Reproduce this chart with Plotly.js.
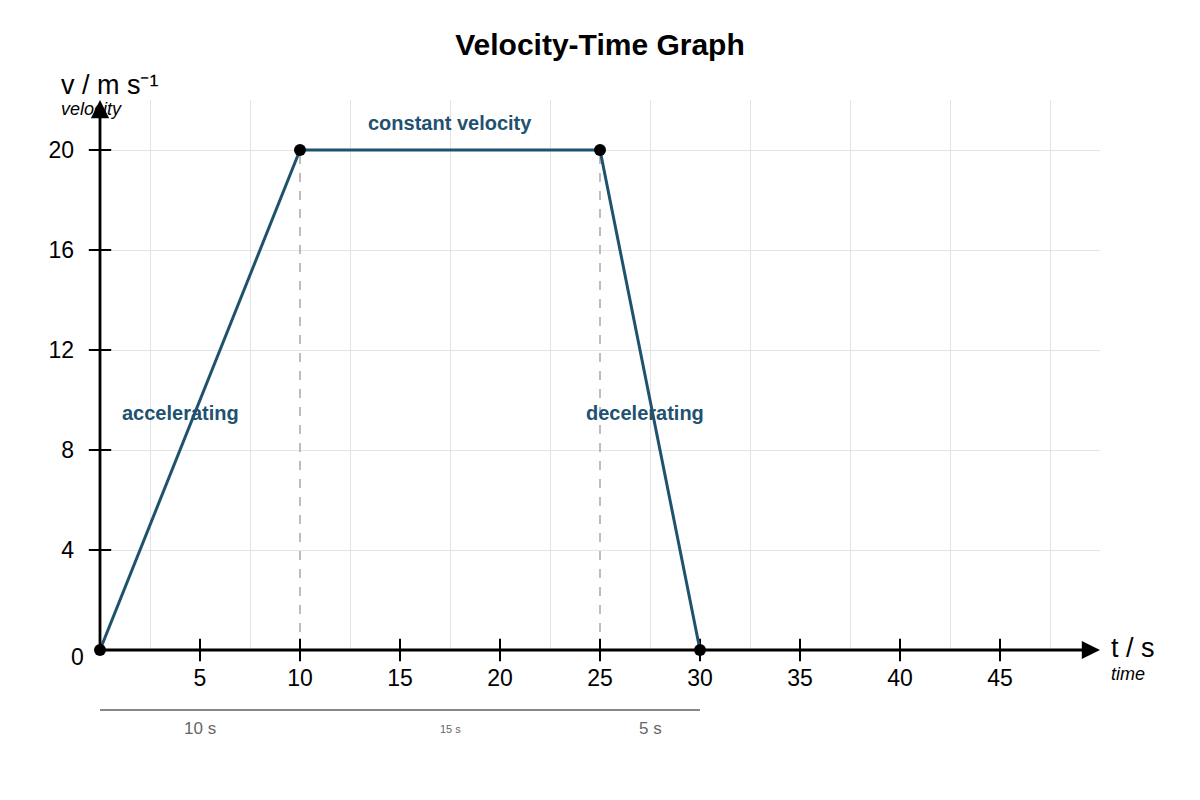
<!DOCTYPE html>
<html>
<head>
<meta charset="utf-8">
<script src="https://cdn.plot.ly/plotly-3.0.1.min.js"></script>
<style>
  html, body { margin: 0; padding: 0; background: #fff; }
</style>
</head>
<body>
<div id="vt-graph" style="width:1200px;height:800px;"></div>
<script>
// motion data
const times = [0, 10, 25, 30];
const velocities = [0, 20, 20, 0];
const phaseNames = ['accelerating', 'constant velocity', 'decelerating'];

// axis ticks
const xTicks = [5, 10, 15, 20, 25, 30, 35, 40, 45];
const yTicks = [4, 8, 12, 16, 20];
const xMax = 50;
const yMax = 22;

const FONT = 'Liberation Sans, Arial, sans-serif';
const LINE_COLOR = '#1f5170';

const traces = [];

// dashed drop lines at the phase changes
[1, 2].forEach((i) => {
    traces.push({
        x: [times[i], times[i]],
        y: [0, velocities[i]],
        mode: 'lines',
        line: { color: '#a8a8a8', width: 1.5, dash: 'dash' },
        hoverinfo: 'skip',
        showlegend: false
    });
});

// tick crosses on both axes
traces.push({
    x: xTicks,
    y: xTicks.map(() => 0),
    mode: 'markers',
    marker: { symbol: 'line-ns', size: 16, line: { color: '#000', width: 2 } },
    cliponaxis: false,
    hoverinfo: 'skip',
    showlegend: false
});
traces.push({
    x: yTicks.map(() => 0),
    y: yTicks,
    mode: 'markers',
    marker: { symbol: 'line-ew', size: 16, line: { color: '#000', width: 2 } },
    cliponaxis: false,
    hoverinfo: 'skip',
    showlegend: false
});

// the v-t line
traces.push({
    x: times,
    y: velocities,
    mode: 'lines',
    line: { color: LINE_COLOR, width: 3 },
    cliponaxis: false,
    hoverinfo: 'skip',
    showlegend: false
});
traces.push({
    x: times,
    y: velocities,
    mode: 'markers',
    marker: { color: '#000', size: 12 },
    cliponaxis: false,
    hoverinfo: 'x+y',
    showlegend: false
});

const annotations = [];

// axes drawn as arrows
annotations.push({
    x: xMax, y: 0, ax: 0, ay: 0, xref: 'x', yref: 'y', axref: 'x', ayref: 'y',
    text: '', showarrow: true, arrowhead: 2, arrowsize: 1.3, arrowwidth: 2.8, arrowcolor: '#000'
});
annotations.push({
    x: 0, y: yMax, ax: 0, ay: 0, xref: 'x', yref: 'y', axref: 'x', ayref: 'y',
    text: '', showarrow: true, arrowhead: 2, arrowsize: 1.3, arrowwidth: 2.8, arrowcolor: '#000'
});

// origin label
annotations.push({
    x: 0, y: 0, xref: 'x', yref: 'y', text: '0', showarrow: false,
    xanchor: 'right', yanchor: 'middle', xshift: -14, yshift: -7,
    font: { family: FONT, size: 23, color: '#000' }
});

// axis titles
annotations.push({
    x: -0.041, y: 1.027, xref: 'paper', yref: 'paper', text: 'v / m s⁻¹', showarrow: false,
    xanchor: 'left', yanchor: 'middle', font: { family: FONT, size: 27, color: '#000' }
});
annotations.push({
    x: -0.041, y: 0.984, xref: 'paper', yref: 'paper', text: '<i>velocity</i>', showarrow: false,
    xanchor: 'left', yanchor: 'middle', font: { family: FONT, size: 18, color: '#000' }
});
annotations.push({
    x: 1.009, y: 0.004, xref: 'paper', yref: 'paper', text: 't / s', showarrow: false,
    xanchor: 'left', yanchor: 'middle', font: { family: FONT, size: 27, color: '#000' }
});
annotations.push({
    x: 1.009, y: -0.044, xref: 'paper', yref: 'paper', text: '<i>time</i>', showarrow: false,
    xanchor: 'left', yanchor: 'middle', font: { family: FONT, size: 18, color: '#000' }
});

// phase labels
const phaseShift = [[-20, -13], [0, 27], [-5, -13]];
phaseNames.forEach((name, i) => {
    annotations.push({
        x: (times[i] + times[i + 1]) / 2,
        y: (velocities[i] + velocities[i + 1]) / 2,
        xref: 'x', yref: 'y', text: '<b>' + name + '</b>', showarrow: false,
        xanchor: 'center', yanchor: 'middle',
        xshift: phaseShift[i][0], yshift: phaseShift[i][1],
        font: { family: FONT, size: 20, color: LINE_COLOR }
    });
});

// phase durations under the axis
const durSize = [17, 11, 17];
phaseNames.forEach((name, i) => {
    annotations.push({
        x: (times[i] + times[i + 1]) / 2,
        y: -0.1436, xref: 'x', yref: 'paper',
        text: (times[i + 1] - times[i]) + ' s', showarrow: false,
        xanchor: 'center', yanchor: 'middle',
        font: { family: FONT, size: durSize[i], color: '#666' }
    });
});

const layout = {
    width: 1200,
    height: 800,
    margin: { l: 100, r: 100, t: 100, b: 150 },
    paper_bgcolor: '#fff',
    plot_bgcolor: '#fff',
    font: { family: FONT, color: '#000' },
    title: {
        text: '<b>Velocity-Time Graph</b>',
        x: 0.5, xref: 'paper', y: 0.944, yref: 'container', yanchor: 'middle',
        font: { family: FONT, size: 30, color: '#000' }
    },
    xaxis: {
        range: [0, xMax],
        tickmode: 'array',
        tickvals: xTicks,
        ticktext: xTicks.map(String),
        ticks: '',
        ticklabelstandoff: 12,
        tickfont: { family: FONT, size: 23, color: '#000' },
        showgrid: false,
        minor: { tickmode: 'linear', tick0: 2.5, dtick: 5, showgrid: true, gridcolor: '#e4e4e4', gridwidth: 1, ticks: '' },
        zeroline: false,
        showline: false,
        fixedrange: true
    },
    yaxis: {
        range: [0, yMax],
        tickmode: 'array',
        tickvals: yTicks,
        ticktext: yTicks.map(String),
        ticks: '',
        ticklabelstandoff: 25,
        tickfont: { family: FONT, size: 23, color: '#000' },
        showgrid: true,
        gridcolor: '#e4e4e4',
        gridwidth: 1,
        zeroline: false,
        showline: false,
        fixedrange: true
    },
    shapes: [{
        type: 'line', xref: 'x', yref: 'paper',
        x0: times[0], x1: times[times.length - 1], y0: -0.109, y1: -0.109,
        line: { color: '#888', width: 2 }
    }],
    annotations: annotations,
    showlegend: false
};

Plotly.newPlot('vt-graph', traces, layout, { displayModeBar: false, staticPlot: true });
</script>
</body>
</html>
